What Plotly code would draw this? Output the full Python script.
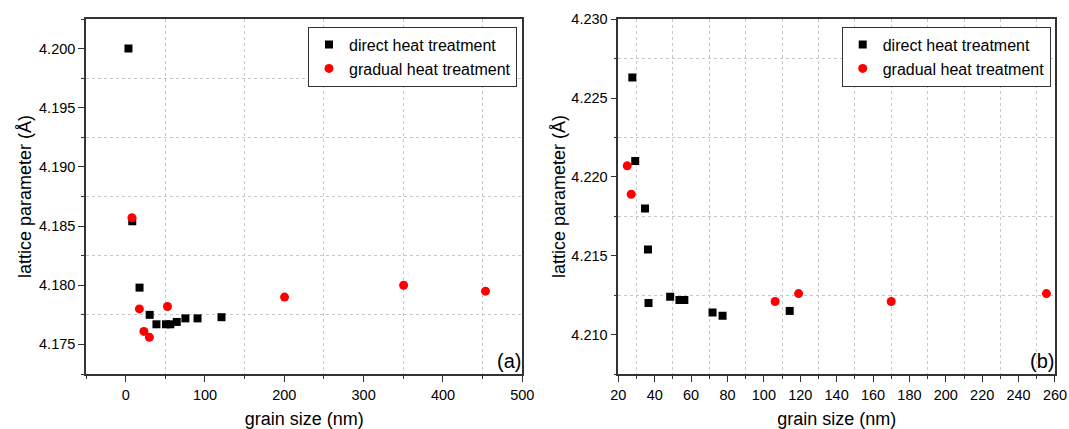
import plotly.graph_objects as go

# ---- data panel (a)
a_direct_x = [3.5, 8.3, 17.5, 30.3, 38.8, 50.8, 56.3, 64.4, 75.3, 90.6, 120.8]
a_direct_y = [4.2000, 4.1854, 4.1798, 4.1775, 4.1767, 4.1767, 4.1767, 4.1769, 4.1772, 4.1772, 4.1773]
a_grad_x = [7.9, 17.3, 23.0, 29.9, 52.7, 200.3, 350.4, 453.6]
a_grad_y = [4.1857, 4.1780, 4.1761, 4.1756, 4.1782, 4.1790, 4.1800, 4.1795]

# ---- data panel (b)
b_direct_x = [27.7, 29.3, 34.7, 36.3, 36.6, 48.5, 53.6, 56.3, 71.8, 77.3, 114.2]
b_direct_y = [4.2263, 4.2210, 4.2180, 4.2154, 4.2120, 4.2124, 4.2122, 4.2122, 4.2114, 4.2112, 4.2115]
b_grad_x = [24.9, 27.1, 106.2, 119.1, 170.0, 255.3]
b_grad_y = [4.2207, 4.2189, 4.2121, 4.2126, 4.2121, 4.2126]

series_names = ["direct heat treatment", "gradual heat treatment"]

FONT = "Arial, Liberation Sans, sans-serif"
LINE = "#333333"
GRID = "#c8c8c8"

fig = go.Figure()
sq = dict(symbol="square", size=8, color="#000000")
ci = dict(symbol="circle", size=9, color="#ff0000")

fig.add_trace(go.Scatter(x=a_direct_x, y=a_direct_y, mode="markers", marker=sq,
                         name=series_names[0], xaxis="x", yaxis="y", legend="legend"))
fig.add_trace(go.Scatter(x=a_grad_x, y=a_grad_y, mode="markers", marker=ci,
                         name=series_names[1], xaxis="x", yaxis="y", legend="legend"))
fig.add_trace(go.Scatter(x=b_direct_x, y=b_direct_y, mode="markers", marker=sq,
                         name=series_names[0], xaxis="x2", yaxis="y2", legend="legend2"))
fig.add_trace(go.Scatter(x=b_grad_x, y=b_grad_y, mode="markers", marker=ci,
                         name=series_names[1], xaxis="x2", yaxis="y2", legend="legend2"))

L, R, T, B = 86, 14, 19, 55
W, H = 1069, 429
pw = W - L - R
ph = H - T - B


def dom(a, b):
    return [(a - L) / pw, (b - L) / pw]


def base_axis(rng, tick0, dtick, mdtick, title, dm=None, anchor=None, fmt=None):
    d = dict(range=rng, tick0=tick0, dtick=dtick, ticks="outside", ticklen=6, tickwidth=1.3,
             tickcolor=LINE, showline=True, linecolor=LINE, linewidth=1.5, mirror=True,
             showgrid=False, zeroline=False, automargin=False,
             tickfont=dict(family=FONT, size=14.5, color="#000"),
             title=dict(text=title, font=dict(family=FONT, size=18, color="#000")),
             minor=dict(dtick=mdtick, ticks="outside", ticklen=3, tickwidth=1.3, tickcolor=LINE,
                        showgrid=True, gridcolor=GRID, griddash="dot", gridwidth=1))
    if dm is not None:
        d["domain"] = dm
    if anchor is not None:
        d["anchor"] = anchor
    if fmt is not None:
        d["tickformat"] = fmt
    return d


def mirror_axis(rng, tick0, dtick, mdtick, over, side, anchor):
    return dict(range=rng, tick0=tick0, dtick=dtick, ticks="inside", ticklen=6, tickwidth=1.3,
                tickcolor=LINE, showticklabels=False, showline=False, showgrid=False,
                zeroline=False, overlaying=over, side=side, anchor=anchor, automargin=False,
                minor=dict(dtick=mdtick, ticks="inside", ticklen=3, tickwidth=1.3, tickcolor=LINE,
                           showgrid=False))


xa_rng = [-50, 500.01]
ya_rng = [4.1725, 4.2025]
xb_rng = [20, 260.01]
yb_rng = [4.2075, 4.23001]

d1 = dom(86, 522.3)
d2 = dom(618.3, 1055)

xa = base_axis(xa_rng, 0, 100, 50, "grain size (nm)", d1, "y")
xa["title"]["standoff"] = 20
xa["ticklabelstandoff"] = 1
ya = base_axis(ya_rng, 4.175, 0.005, 0.0025, "lattice parameter (Å)", None, "x", ".3f")
ya["title"]["standoff"] = 3
xb = base_axis(xb_rng, 20, 20, 10, "grain size (nm)", d2, "y2")
xb["title"]["standoff"] = 20
xb["ticklabelstandoff"] = 1
yb = base_axis(yb_rng, 4.21, 0.005, 0.0025, "lattice parameter (Å)", None, "x2", ".3f")
yb["title"]["standoff"] = 1

leg_common = dict(font=dict(family=FONT, size=16, color="#000"), bgcolor="rgba(255,255,255,1)",
                  bordercolor=LINE, borderwidth=1, xanchor="right", yanchor="top",
                  tracegroupgap=0, itemsizing="trace")

ann_font = dict(family=FONT, size=20, color="#000")

fig.update_layout(
    width=W, height=H,
    margin=dict(l=L, r=R, t=T, b=B, autoexpand=False),
    paper_bgcolor="white", plot_bgcolor="white",
    xaxis=xa, yaxis=ya, xaxis2=xb, yaxis2=yb,
    xaxis3=mirror_axis(xa_rng, 0, 100, 50, "x", "top", "y"),
    yaxis3=mirror_axis(ya_rng, 4.175, 0.005, 0.0025, "y", "right", "x"),
    xaxis4=mirror_axis(xb_rng, 20, 20, 10, "x2", "top", "y2"),
    yaxis4=mirror_axis(yb_rng, 4.21, 0.005, 0.0025, "y2", "right", "x2"),
    legend=dict(x=(517 - L) / pw, y=1 - (26.7 - T) / ph, **leg_common),
    legend2=dict(x=(1050.7 - L) / pw, y=1 - (26.7 - T) / ph, **leg_common),
    annotations=[
        dict(text="(a)", x=(509 - L) / pw, y=1 - (361 - T) / ph, xref="paper", yref="paper",
             showarrow=False, font=ann_font, xanchor="center", yanchor="middle"),
        dict(text="(b)", x=(1041.5 - L) / pw, y=1 - (361 - T) / ph, xref="paper", yref="paper",
             showarrow=False, font=ann_font, xanchor="center", yanchor="middle"),
    ],
)

fig.write_html("out.html")
